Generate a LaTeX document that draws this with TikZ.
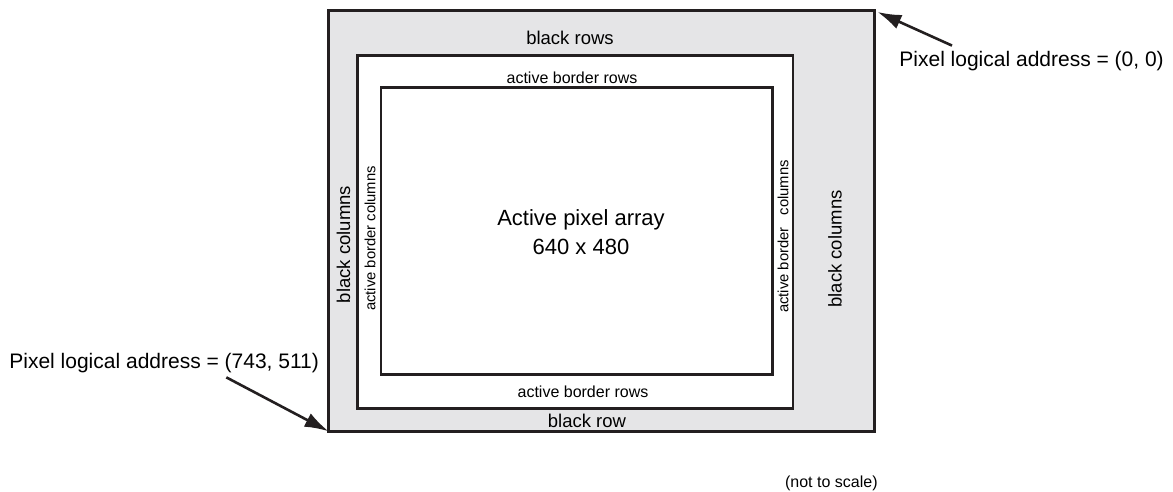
\documentclass[tikz,border=0pt]{standalone}
\usepackage{fontspec}
\setmainfont{Liberation Sans}
\usetikzlibrary{arrows.meta}
\definecolor{darkarea}{RGB}{229,229,231}
\definecolor{edgegray}{RGB}{35,31,32}

\begin{document}
\begin{tikzpicture}[x=0.5pt,y=-0.5pt]

\tikzset{zonebox/.style={draw=edgegray,line width=1.35pt},
  pointer/.style={draw=edgegray,line width=1.3pt,-{Latex[length=12pt,width=7.5pt]}},
  addrlbl/.style={anchor=base west,inner sep=0pt,font=\fontsize{10.5}{12}\selectfont},
  blacklbl/.style={font=\fontsize{9.25}{11}\selectfont,inner sep=0pt},
  borderlbl/.style={font=\fontsize{8}{9.6}\selectfont,inner sep=0pt},
  bordercol/.style={font=\fontsize{7.4}{9}\selectfont,inner sep=0pt,rotate=90}}

\useasboundingbox (0,0) rectangle (1173,492);

% sensor areas
\coordinate (outerNE) at (874.7,10.7);
\coordinate (outerSW) at (328.6,431.3);
\draw[zonebox,fill=darkarea] (outerSW) rectangle (outerNE);
\draw[zonebox,fill=white] (357.7,55.7) rectangle (793,408.7);
\draw[zonebox] (381,87.7) rectangle (772.3,374.7);

% rows and columns
\node[blacklbl,anchor=base] (blackrows) at (570,45) {black rows};
\node[borderlbl,anchor=base] (bordertop) at (572,84) {active border rows};
\node[borderlbl,anchor=base] (borderbot) at (583,397) {active border rows};
\node[blacklbl,anchor=base] (blackrow) at (587,427) {black row};
\node[blacklbl,rotate=90] (blackleft) at (343.5,244.5) {black columns};
\node[blacklbl,rotate=90] (blackright) at (835,249) {black columns};
\node[bordercol] (borderleft) at (370,238.5) {active border columns};
\node[bordercol] (borderright) at (783,236.5) {active border\hspace{6pt}columns};

\node[align=center,font=\fontsize{11}{14.15}\selectfont] (array) at (581,232) {Active pixel array\\640 x 480};

% addresses
\node[addrlbl] (addrfirst) at (899,67) {Pixel logical address = (0, 0)};
\node[addrlbl] (addrlast) at (9,368) {Pixel logical address = (743, 511)};
\node[anchor=base east,inner sep=0pt,font=\fontsize{8}{9.6}\selectfont] (scalenote) at (878,487) {(not to scale)};

\draw[pointer,shorten >=1.5pt] ([shift={(26.5pt,2.9pt)}]addrfirst.north west) -- (outerNE);
\draw[pointer] ([shift={(-46.5pt,-2.3pt)}]addrlast.south east) -- (outerSW);

\end{tikzpicture}
\end{document}
